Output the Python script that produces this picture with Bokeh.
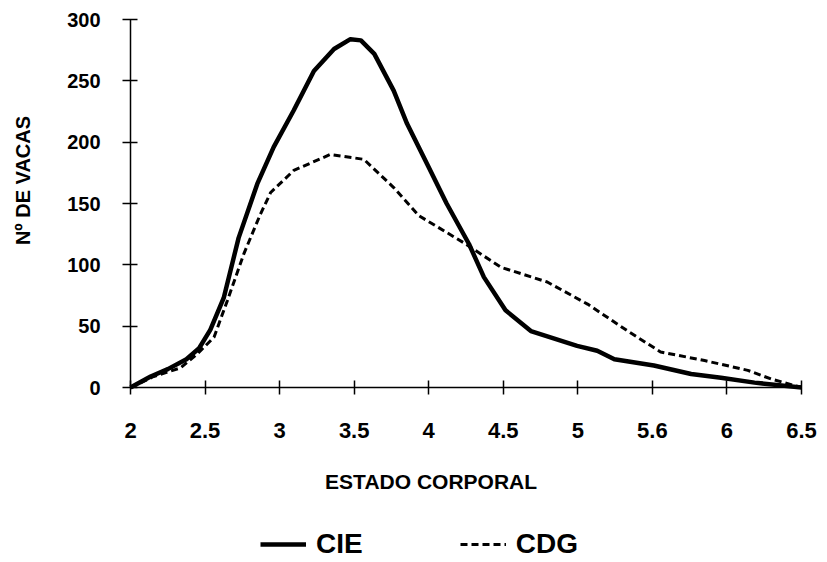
import math
from bokeh.plotting import figure
from bokeh.models import Range1d, FixedTicker, Legend, LegendItem, Label
from bokeh.embed import file_html
from bokeh.resources import INLINE

# Tick categories (evenly spaced on the axis)
tick_labels = ["2", "2.5", "3", "3.5", "4", "4.5", "5", "5.6", "6", "6.5"]

# CIE series: position along the axis (in tick steps) and number of cows
cie_pos = [0, 0.27, 0.5, 0.75, 0.92, 1.07, 1.25, 1.45, 1.7, 1.92, 2.19, 2.46, 2.73,
           2.95, 3.09, 3.27, 3.53, 3.71, 3.98, 4.24, 4.54, 4.74, 5.03, 5.37, 5.99,
           6.26, 6.49, 7.02, 7.52, 7.92, 8.37, 9]
cie_val = [0, 9, 15, 23, 32, 47, 73, 122, 166, 196, 226, 258, 276,
           284, 283, 272, 242, 215, 182, 150, 117, 90, 63, 46, 34,
           30, 23, 18, 11, 8, 4, 0]

# CDG series
cdg_pos = [0, 0.31, 0.67, 0.89, 1.12, 1.3, 1.52, 1.74, 1.88, 2.19, 2.68, 3.13,
           3.53, 3.87, 4.47, 4.97, 5.59, 6.13, 6.67, 7.11, 7.7, 8.28, 8.59, 9]
cdg_val = [0, 9, 16, 27, 41, 71, 109, 141, 159, 177, 190, 186,
           163, 140, 118, 98, 86, 68, 46, 29, 22, 14, 7, 0]

y_ticks = [0, 50, 100, 150, 200, 250, 300]

FONT = "Liberation Sans"

# The frame fills the whole figure; axes sit at fixed locations (x=0, y=0) inside it
# so that the axis texts, titles and legend can be placed freely around them.
p = figure(width=820, height=560, output_backend="svg", toolbar_location=None,
           x_range=Range1d(-1.744, 9.255), y_range=Range1d(-141, 315.5),
           min_border_left=0, min_border_right=0, min_border_top=0,
           min_border_bottom=0)
p.outline_line_color = None
p.xgrid.grid_line_color = None
p.ygrid.grid_line_color = None
p.background_fill_color = "white"
p.border_fill_color = "white"

r1 = p.line(cie_pos, cie_val, line_color="black", line_width=4.5, line_join="round")
r2 = p.line(cdg_pos, cdg_val, line_color="black", line_width=3, line_dash="7 4")

p.xaxis.fixed_location = 0
p.xaxis.bounds = (0, len(tick_labels) - 1)
p.xaxis.ticker = FixedTicker(ticks=list(range(len(tick_labels))))
p.xaxis.major_label_overrides = {i: t for i, t in enumerate(tick_labels)}
p.xaxis.major_tick_in = 7
p.xaxis.major_tick_out = 7
p.xaxis.minor_tick_line_color = None
p.xaxis.major_label_standoff = 28
p.xaxis.major_label_text_font = FONT
p.xaxis.major_label_text_font_style = "bold"
p.xaxis.major_label_text_font_size = "22px"
p.xaxis.major_label_text_color = "black"
p.xaxis.axis_line_width = 1.5
p.xaxis.major_tick_line_width = 1.5

p.yaxis.fixed_location = 0
p.yaxis.bounds = (0, 300)
p.yaxis.ticker = FixedTicker(ticks=y_ticks)
p.yaxis.major_tick_in = 7
p.yaxis.major_tick_out = 8
p.yaxis.minor_tick_line_color = None
p.yaxis.major_label_standoff = 22
p.yaxis.major_label_text_font = FONT
p.yaxis.major_label_text_font_style = "bold"
p.yaxis.major_label_text_font_size = "20px"
p.yaxis.major_label_text_color = "black"
p.yaxis.axis_line_width = 1.5
p.yaxis.major_tick_line_width = 1.5

ytitle = Label(x=22, y=380, x_units="screen", y_units="screen", angle=math.pi / 2,
               text="Nº DE VACAS", text_align="center", text_baseline="middle",
               text_font=FONT, text_font_style="bold", text_font_size="20px",
               text_color="black")
p.add_layout(ytitle)

xlabel = Label(x=433.5, y=79.5, x_units="screen", y_units="screen",
               text="ESTADO  CORPORAL", text_align="center", text_baseline="middle",
               text_font=FONT, text_font_style="bold",
               text_font_size="21px", text_color="black")
p.add_layout(xlabel)

legend = Legend(items=[LegendItem(label="CIE", renderers=[r1]),
                       LegendItem(label="CDG", renderers=[r2])],
                location=(260, 0), orientation="horizontal",
                glyph_width=46, glyph_height=20, label_standoff=10, spacing=97,
                label_text_font=FONT, label_text_font_style="bold",
                label_text_font_size="28px", label_text_color="black",
                padding=0, margin=0, border_line_color=None,
                background_fill_alpha=0)
p.add_layout(legend)

open("out.html", "w").write(file_html(p, INLINE))
